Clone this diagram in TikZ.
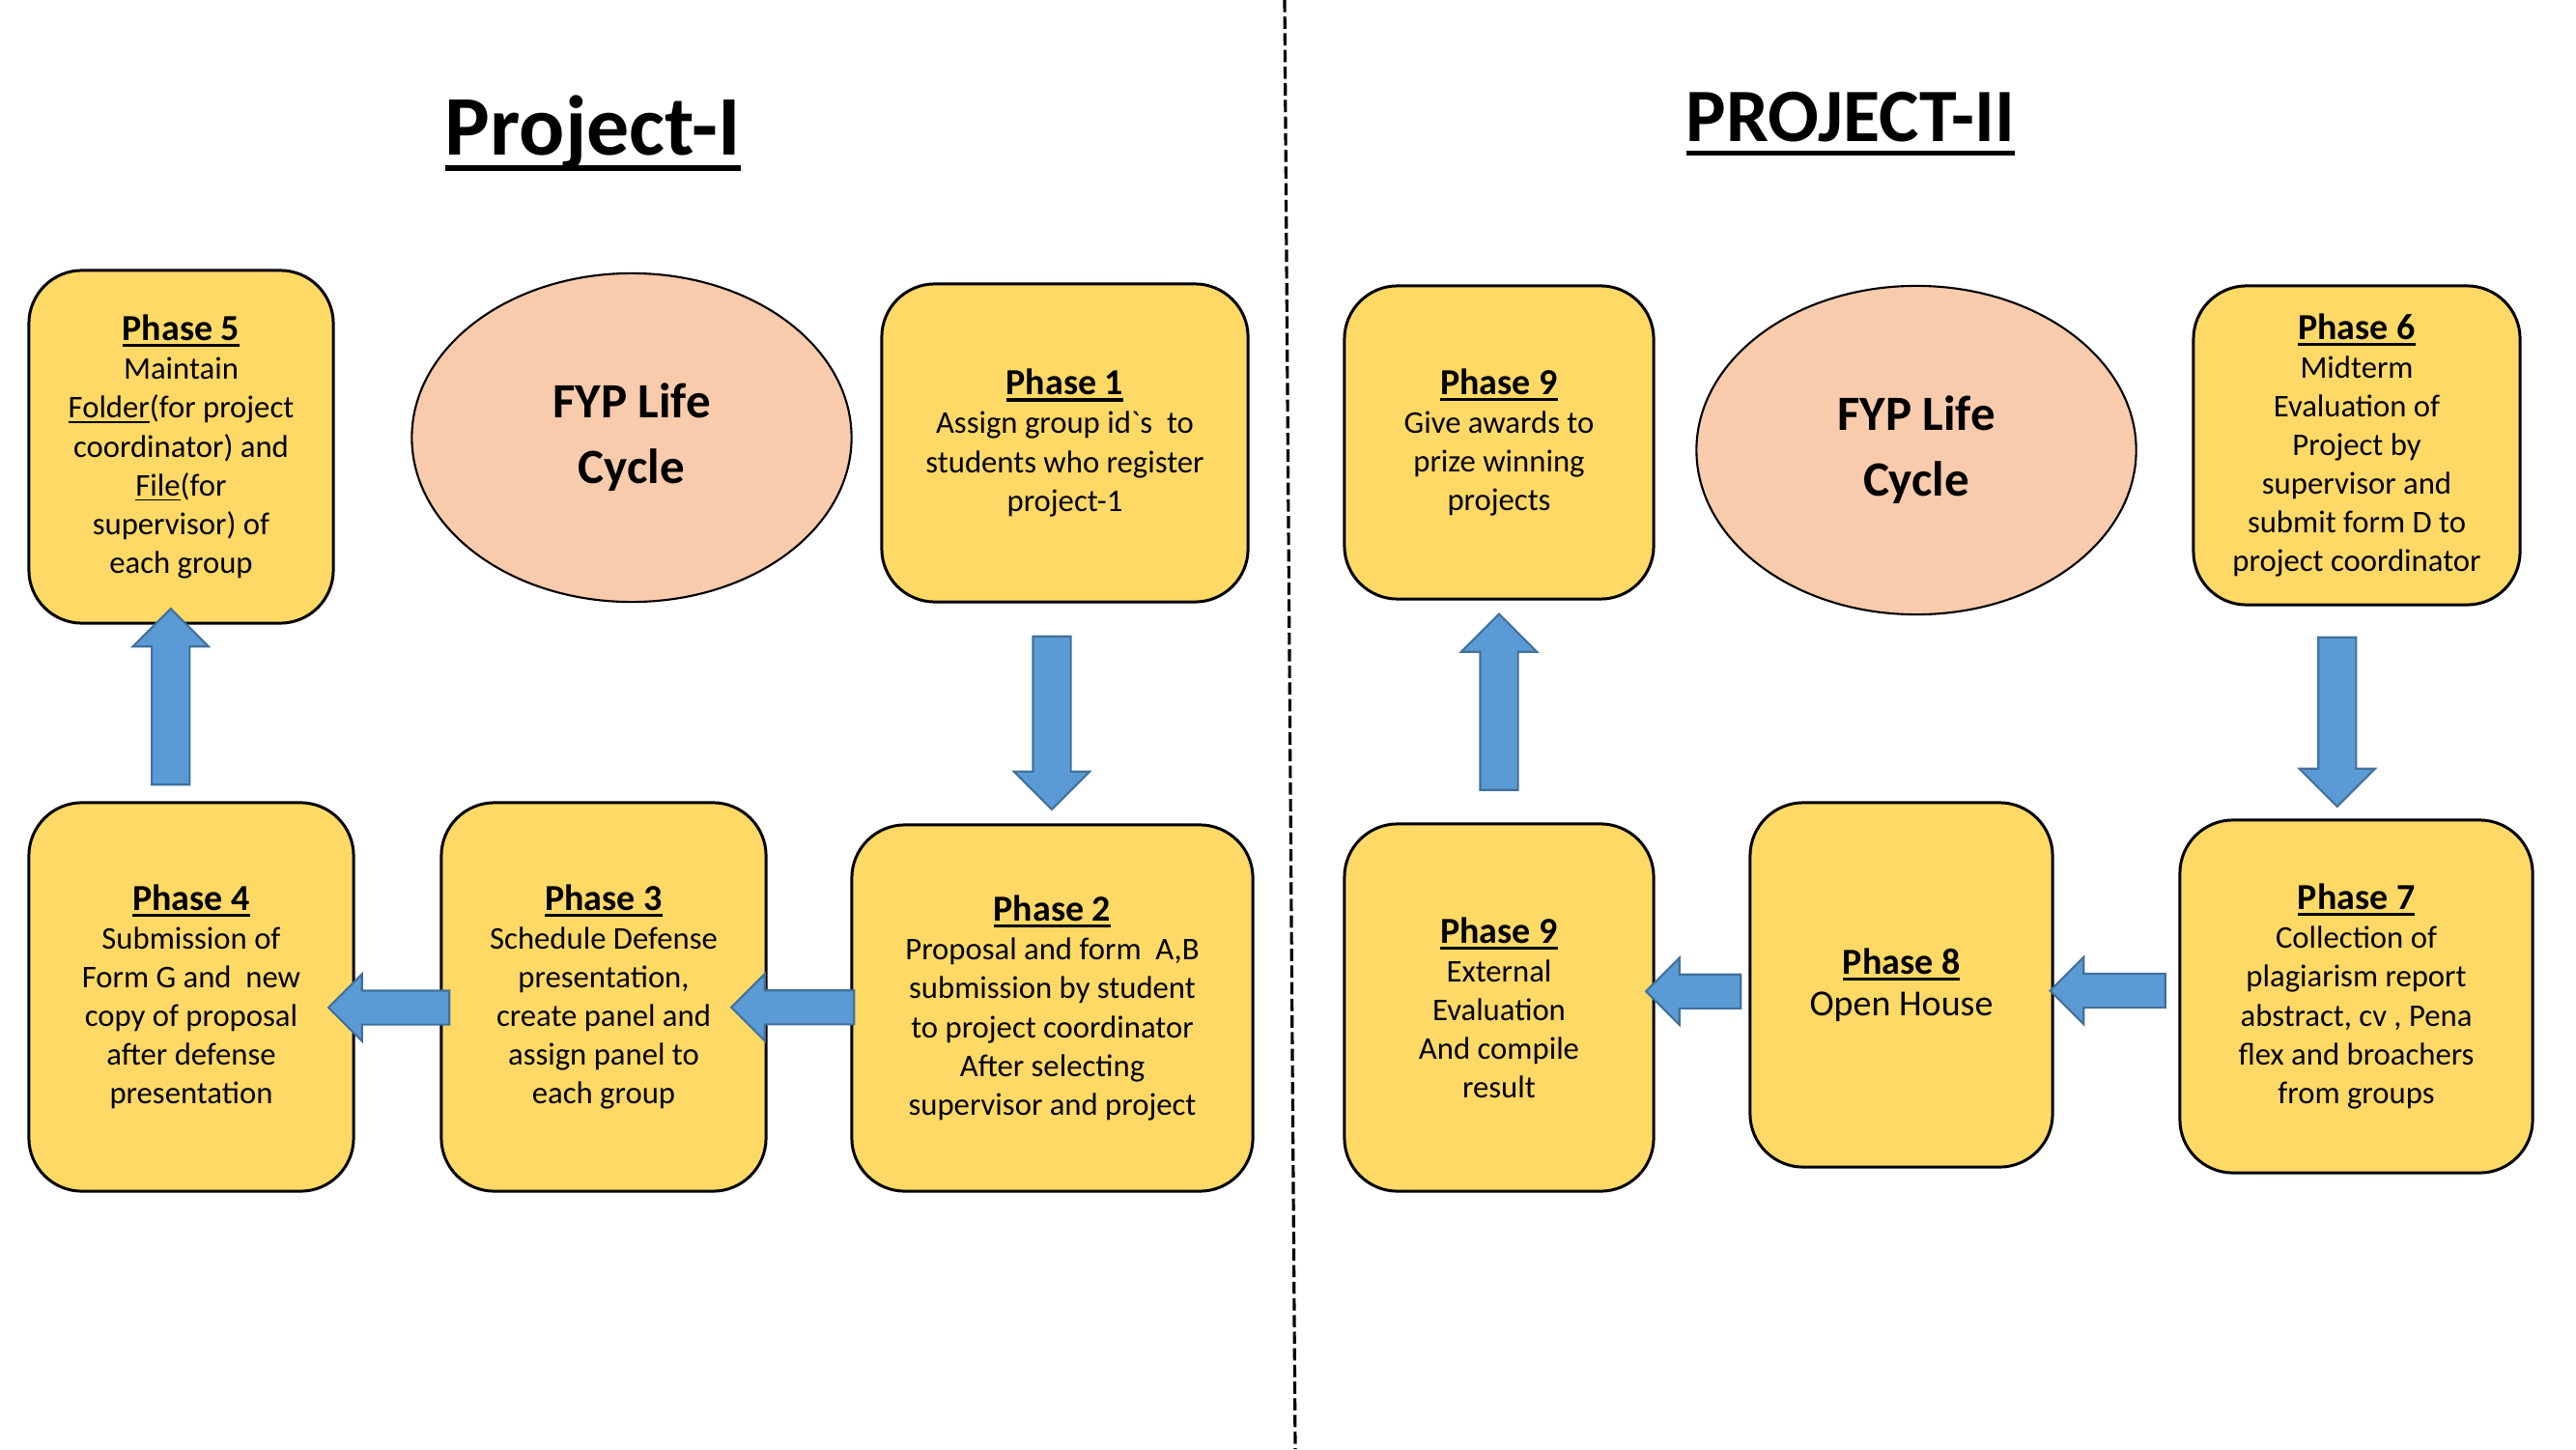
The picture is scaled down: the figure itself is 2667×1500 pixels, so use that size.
\documentclass[tikz,border=0pt]{standalone}
\usepackage{fontspec}
\setmainfont{Carlito}[Ligatures=TeXOff]
\usetikzlibrary{shapes.geometric, shapes.arrows, calc, positioning}

\definecolor{phaseyellow}{HTML}{FFD966}
\definecolor{cyclepeach}{HTML}{F8CBAD}
\definecolor{arrowblue}{HTML}{5B9BD5}
\definecolor{arrowedge}{HTML}{41719C}

% underline: text, depth below baseline, thickness
\newsavebox{\ulsave}
\newcommand{\lineunder}[3]{\sbox{\ulsave}{#1}\rlap{\vrule height \dimexpr#3-#2\relax depth #2 width \wd\ulsave}\usebox{\ulsave}}
\newcommand{\phasehead}[1]{{\fontsize{10.8}{12}\selectfont\bfseries\lineunder{#1}{1.9pt}{0.9pt}}}
\newcommand{\underword}[1]{\lineunder{#1}{1.5pt}{0.5pt}}

\tikzset{
    phasebox/.style={draw, line width=0.85pt, fill=phaseyellow, rounded corners=5.5mm,
        align=center, inner sep=0pt, font=\fontsize{9.3}{11.4}\selectfont},
    lifecycle/.style={ellipse, draw, line width=0.6pt, fill=cyclepeach, align=center, inner sep=0pt,
        minimum width=45.5mm, minimum height=34mm, font=\fontsize{14.5}{19.3}\selectfont\bfseries},
    blockarrow/.style={single arrow, draw=arrowedge, fill=arrowblue, line width=0.6pt,
        inner xsep=0pt, inner ysep=1.85mm, single arrow tip angle=90, single arrow head extend=1.95mm},
    sidearrow/.style={blockarrow, inner ysep=1.65mm, single arrow head extend=1.7mm},
    heading/.style={anchor=base}
}

\begin{document}
\begin{tikzpicture}[x=0.01cm, y=-0.01cm]

    % Page
    \fill[white] (0,0) rectangle (2667,1500);
    \useasboundingbox (0,0) rectangle (2667,1500);

    % Divider between the two projects
    \draw[line width=0.9pt, dash pattern=on 3.6pt off 1.3pt] (1330,0) -- (1341,1500);

    % Titles
    \node[heading, font=\fontsize{25}{29}\selectfont\bfseries] (titleI) at (614,160) {\lineunder{Project-I}{4.8pt}{1.6pt}};
    \node[heading, font=\fontsize{22.2}{26}\selectfont\bfseries] (titleII) at (1916,147) {\lineunder{PROJECT-II}{4pt}{1.3pt}};

    % Project-I phases
    \node[phasebox, minimum width=31.5mm, minimum height=36.5mm] (p5) at (187.5,462.5)
        {\phasehead{Phase 5}\\Maintain\\\underword{Folder}(for project\\coordinator) and\\\underword{File}(for\\supervisor) of\\each group};
    \node[lifecycle] (cycleI) at (654,453) {FYP Life\\Cycle};
    \node[phasebox, minimum width=37.9mm, minimum height=32.9mm] (p1) at (1102.5,458.5)
        {\phasehead{Phase 1}\\Assign group id`s\ \ to\\students who register\\project-1};
    \node[phasebox, minimum width=41.5mm, minimum height=37.9mm] (p2) at (1089.5,1043.5)
        {\phasehead{Phase 2}\\Proposal and form\ \ A,B\\submission by student\\to project coordinator\\After selecting\\supervisor and project};
    \node[phasebox, minimum width=33.6mm, minimum height=40.2mm] (p3) at (625,1032)
        {\phasehead{Phase 3}\\Schedule Defense\\presentation,\\create panel and\\assign panel to\\each group};
    \node[phasebox, minimum width=33.6mm, minimum height=40.2mm] (p4) at (198,1032)
        {\phasehead{Phase 4}\\Submission of\\Form G and\ \ new\\copy of proposal\\after defense\\presentation};

    % Project-II phases
    \node[phasebox, minimum width=32mm, minimum height=32.4mm] (p9a) at (1552,458)
        {\phasehead{Phase 9}\\Give awards to\\prize winning\\projects};
    \node[lifecycle] (cycleII) at (1984,466) {FYP Life\\Cycle};
    \node[phasebox, minimum width=33.8mm, minimum height=33mm] (p6) at (2440,461)
        {\phasehead{Phase 6}\\Midterm\\Evaluation of\\Project by\\supervisor and\\submit form D to\\project coordinator};
    \node[phasebox, minimum width=36.5mm, minimum height=36.5mm] (p7) at (2439.5,1031.5)
        {\phasehead{Phase 7}\\Collection of\\plagiarism report\\abstract, cv , Pena\\flex and broachers\\from groups};
    \node[phasebox, minimum width=31.3mm, minimum height=37.7mm, font=\fontsize{10.8}{12.3}\selectfont] (p8) at (1968.5,1019.5)
        {\phasehead{Phase 8}\\Open House};
    \node[phasebox, minimum width=32mm, minimum height=38mm] (p9b) at (1552,1043)
        {\phasehead{Phase 9}\\External\\Evaluation\\And compile\\result};

    % Block arrows, Project-I
    \node[blockarrow, xshift=-0.7mm, rotate=-90, minimum height=17.9mm] (a12) at ($(p1.south)!0.5!(p2.north)$) {};
    \node[sidearrow, xshift=-0.8mm, yshift=-0.5mm, rotate=180, minimum height=12.7mm] (a23) at ($(p2.west)!0.5!(p3.east)$) {};
    \node[sidearrow, yshift=-1.1mm, rotate=180, minimum height=12.5mm] (a34) at ($(p3.west)!0.5!(p4.east)$) {};
    \node[blockarrow, xshift=-1.6mm, yshift=0.7mm, rotate=90, minimum height=18.2mm] (a45) at ($(p4.north)!0.5!(p5.south)$) {};

    % Block arrows, Project-II
    \node[blockarrow, xshift=-2mm, rotate=-90, minimum height=17.5mm] (a67) at ($(p6.south)!0.5!(p7.north)$) {};
    \node[sidearrow, rotate=180, minimum height=11.9mm] (a78) at ($(p7.west)!0.5!(p8.east)$) {};
    \node[sidearrow, yshift=0.5mm, rotate=180, minimum height=9.8mm] (a89) at ($(p8.west)!0.5!(p9b.east)$) {};
    \node[blockarrow, rotate=90, minimum height=18.2mm] (a99) at ($(p9b.north)!0.5!(p9a.south)$) {};

\end{tikzpicture}
\end{document}
